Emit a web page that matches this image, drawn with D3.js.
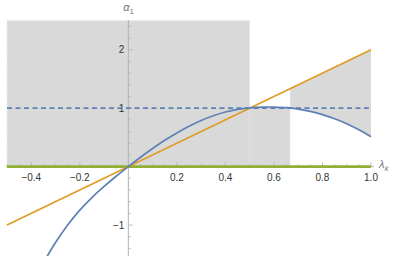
<!DOCTYPE html>
<html lang="en">
  <head>
    <meta charset="UTF-8" />
    <script src="https://d3js.org/d3.v7.min.js"></script>
    <title>alpha vs lambda</title>
    <style>
      body { margin: 0; background: #fff; }
      text { font-family: "Liberation Sans", "DejaVu Sans", sans-serif; }
    </style>
  </head>
  <body>
    <svg id="chart" width="399" height="256"></svg>
    <script>
      // blue curve
      var blueX = [-0.335, -0.3, -0.25, -0.2, -0.15, -0.1, -0.05, 0, 0.05, 0.1, 0.15, 0.2, 0.25, 0.3,
        0.35, 0.4, 0.45, 0.5, 0.55, 0.6, 0.65, 0.667, 0.7, 0.75, 0.8, 0.85, 0.9, 0.95, 1.0];
      var blueY = [-1.54, -1.30, -1.0, -0.745, -0.53, -0.34, -0.165, 0, 0.16, 0.31, 0.45, 0.575, 0.69, 0.79,
        0.87, 0.935, 0.98, 1.005, 1.018, 1.02, 1.01, 1.005, 0.985, 0.945, 0.89, 0.82, 0.735, 0.63, 0.51];
      // straight orange line
      var orangeX = [-0.5, 1.0];
      var orangeY = [-1.0, 2.0];
      // dashed level and green zero line
      var dashLevel = 1;
      var zeroLevel = 0;
      // shaded regions (x limits)
      var shade1 = [-0.5, 0.5], shade1Top = 2.5;
      var shade2 = [0.5, 0.667];
      var shade3 = [0.667, 1.0];
      // ticks
      var xTickLabels = [-0.4, -0.2, 0.2, 0.4, 0.6, 0.8, 1.0];
      var yTickLabels = [-1, 1, 2];

      var svg = d3.select('#chart');
      var x = d3.scaleLinear().domain([-0.5, 1.0]).range([7, 371]);
      var y = d3.scaleLinear().domain([-1.53, 2.51]).range([256, 20]);

      var blue = blueX.map(function(d, i) { return { x: d, y: blueY[i] }; });
      var orangeAt = d3.scaleLinear().domain(orangeX).range(orangeY);
      var smooth = d3.curveCatmullRom.alpha(0.5);

      // shading
      var shadeColor = '#d9d9d9';
      var g = svg.append('g');
      g.append('rect')
        .attr('x', x(shade1[0])).attr('y', y(shade1Top))
        .attr('width', x(shade1[1]) - x(shade1[0]))
        .attr('height', y(zeroLevel) - y(shade1Top))
        .attr('fill', shadeColor);
      g.append('path')
        .attr('d', 'M' + x(shade1[0]) + ',' + y(zeroLevel) + 'V' + y(shade1Top) + 'H' + x(shade1[1]))
        .attr('fill', 'none').attr('stroke', '#ebebeb').attr('stroke-width', 1.2)
        .attr('stroke-dasharray', '3,2');

      var r2 = blue.filter(function(d) { return d.x >= shade2[0] && d.x <= shade2[1]; });
      g.append('path')
        .datum(r2)
        .attr('d', d3.area().curve(smooth)
          .x(function(d) { return x(d.x); })
          .y0(y(zeroLevel))
          .y1(function(d) { return y(d.y); }))
        .attr('fill', shadeColor);

      var r3 = blue.filter(function(d) { return d.x >= shade3[0] && d.x <= shade3[1]; });
      g.append('path')
        .datum(r3)
        .attr('d', d3.area().curve(smooth)
          .x(function(d) { return x(d.x); })
          .y0(function(d) { return y(d.y); })
          .y1(function(d) { return y(orangeAt(d.x)); }))
        .attr('fill', shadeColor);

      // axes
      var axisColor = '#b3b3b3';
      var ax = svg.append('g');
      ax.append('line')
        .attr('x1', x(0)).attr('x2', x(0)).attr('y1', y(2.51)).attr('y2', 256)
        .attr('stroke', axisColor).attr('stroke-width', 1);
      ax.append('line')
        .attr('x1', x(-0.5)).attr('x2', x(1.0) + 3).attr('y1', y(0)).attr('y2', y(0))
        .attr('stroke', axisColor).attr('stroke-width', 1);

      var yMinor = d3.range(-7, 13).map(function(i) { return i * 0.2; });
      ax.selectAll('.ytick').data(yMinor).enter().append('line')
        .attr('x1', x(0)).attr('y1', function(d) { return y(d); }).attr('y2', function(d) { return y(d); })
        .attr('x2', function(d) { return x(0) + (Math.abs(d - Math.round(d)) < 1e-6 ? 4.5 : 2.5); })
        .attr('stroke', axisColor).attr('stroke-width', 0.8);

      var xMinor = d3.range(-10, 21).map(function(i) { return i * 0.05; });
      ax.selectAll('.xtick').data(xMinor).enter().append('line')
        .attr('x1', function(d) { return x(d); }).attr('x2', function(d) { return x(d); })
        .attr('y1', y(0))
        .attr('y2', function(d) { return y(0) - (Math.abs(d * 5 - Math.round(d * 5)) < 1e-6 ? 4.5 : 2.5); })
        .attr('stroke', axisColor).attr('stroke-width', 0.8);

      ax.selectAll('.xl').data(xTickLabels).enter().append('text')
        .attr('x', function(d) { return x(d); }).attr('y', y(0) + 14)
        .attr('text-anchor', 'middle').attr('font-size', 10).attr('fill', '#333')
        .text(function(d) { return (d < 0 ? '\u2212' : '') + Math.abs(d).toFixed(1); });
      ax.selectAll('.yl').data(yTickLabels).enter().append('text')
        .attr('x', x(0) - 4).attr('y', function(d) { return y(d) + 3.5; })
        .attr('text-anchor', 'end').attr('font-size', 10).attr('fill', '#333')
        .text(function(d) { return (d < 0 ? '\u2212' : '') + Math.abs(d); });

      // lines
      var line = d3.line().x(function(d) { return x(d.x); }).y(function(d) { return y(d.y); });
      svg.append('path')
        .datum([{ x: -0.5, y: dashLevel }, { x: 1.0, y: dashLevel }])
        .attr('d', line).attr('fill', 'none')
        .attr('stroke', '#5e81b5').attr('stroke-width', 1.8).attr('stroke-dasharray', '5,3.5');
      svg.append('path')
        .datum([{ x: -0.5, y: zeroLevel }, { x: 1.0, y: zeroLevel }])
        .attr('d', line).attr('fill', 'none')
        .attr('stroke', '#8fb032').attr('stroke-width', 2.6);
      svg.append('path')
        .datum(orangeX.map(function(d, i) { return { x: d, y: orangeY[i] }; }))
        .attr('d', line).attr('fill', 'none')
        .attr('stroke', '#e19c24').attr('stroke-width', 1.7);
      svg.append('path')
        .datum(blue)
        .attr('d', d3.line().curve(smooth)
          .x(function(d) { return x(d.x); }).y(function(d) { return y(d.y); }))
        .attr('fill', 'none')
        .attr('stroke', '#5e81b5').attr('stroke-width', 1.7);

      // axis labels
      var al = svg.append('text').attr('x', x(0) - 5).attr('y', 11)
        .attr('font-size', 11).attr('fill', '#777');
      al.append('tspan').attr('font-style', 'italic').text('\u03b1');
      al.append('tspan').attr('font-size', 8).attr('dy', 3).text('1');
      var ll = svg.append('text').attr('x', 379).attr('y', y(0) + 1)
        .attr('font-size', 11).attr('fill', '#777');
      ll.append('tspan').attr('font-style', 'italic').text('\u03bb');
      ll.append('tspan').attr('font-size', 8).attr('dy', 3).attr('font-style', 'italic').text('k');
    </script>
  </body>
</html>
